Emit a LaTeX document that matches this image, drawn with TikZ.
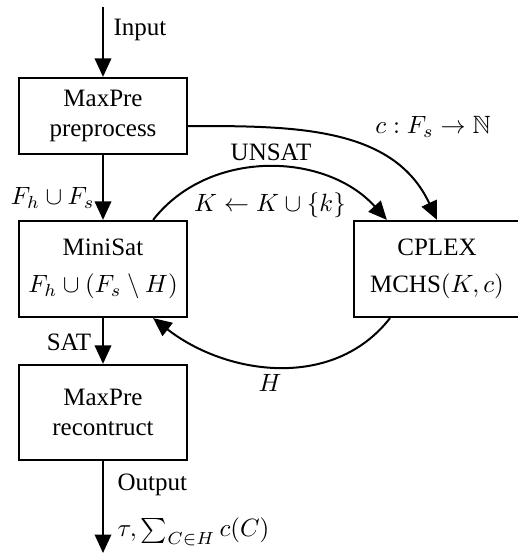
\documentclass[tikz,border=0pt]{standalone}
\usepackage{amssymb}
\usepackage{fontspec}
\setmainfont{Liberation Serif}
\usetikzlibrary{arrows.meta}
\begin{document}
\begin{tikzpicture}[x=0.4pt,y=-0.4pt,
  box/.style={draw, line width=0.9pt, minimum width=67.2pt, inner sep=0pt, align=center},
  arr/.style={-{Triangle[length=7.4pt,width=6.6pt]}, line width=0.8pt},
  lbl/.style={inner sep=0pt}]
\useasboundingbox (0,0) rectangle (518,553);
\node[box, minimum height=30.4pt] (pre) at (103,116) {MaxPre\\preprocess};
\node[box, minimum height=38.4pt] (mini) at (103,269) {MiniSat\\[3pt]$F_h\cup(F_s\setminus H)$};
\node[box, minimum height=38pt] (rec) at (103,412.5) {MaxPre\\recontruct};
\node[box, minimum height=38.4pt, minimum width=66.4pt] (cplex) at (437,269) {CPLEX\\[3pt]MCHS$(K,c)$};
\coordinate (in) at (103,7);
\coordinate (out) at (103,553);
\draw[arr] (in) -- (pre);
\draw[arr] (pre) -- (mini);
\draw[arr] (mini) -- (rec);
\draw[arr] (rec) -- (out);
\draw[arr] ([yshift=-4pt]pre.east) to[out=0,in=115] (cplex.north);
\draw[arr] ([xshift=-14pt]mini.north east) to[out=52,in=132] ([xshift=13.6pt]cplex.north west);
\draw[arr] ([xshift=-18.8pt]cplex.south) to[out=-128,in=-38] ([xshift=-14pt]mini.south east);
\node[lbl, anchor=west] (linput) at (113,30) {Input};
\node[lbl] (lc) at (433,127) {$c: F_s \rightarrow \mathbb{N}$};
\node[lbl] (lunsat) at (271,152) {UNSAT};
\node[lbl] (lk) at (270,205) {$K \leftarrow K\cup\{k\}$};
\node[lbl, anchor=east] (lfh) at (95,198) {$F_h\cup F_s$};
\node[lbl] (lsat) at (69,342) {SAT};
\node[lbl] (lh) at (270,383) {$H$};
\node[lbl, anchor=west] (lout) at (117,485) {Output};
\node[lbl, anchor=west] (lform) at (117,532) {$\tau, \sum_{C\in H} c(C)$};
\end{tikzpicture}
\end{document}
